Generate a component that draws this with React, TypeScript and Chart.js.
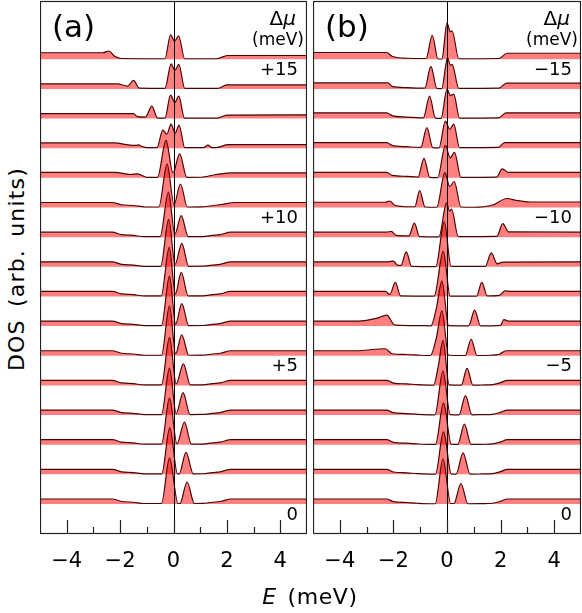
import React, { useEffect, useRef } from "react";
import { Chart, registerables } from "chart.js";

Chart.register(...registerables);

const FONT = "'DejaVu Sans', sans-serif";

// ---------- Data: DOS curves, [E (meV), DOS (arb.)] ----------
// Panel (a): Δμ = 0 .. +15
const a0 = [[-5,1],[-2.3,1],[-1.95,0.5],[-1.5,0.35],[-1.1,0.1],[-0.45,0.1],[-0.15,9.2],[0.17,0.1],[0.24,0.1],[0.51,4.4],[0.78,0.1],[1.1,0.12],[1.45,0.35],[1.75,0.5],[2.15,1],[5,1]];
const a1 = [[-5,1],[-2.3,1],[-1.95,0.5],[-1.5,0.35],[-1.1,0.1],[-0.44,0.1],[-0.14,9.3],[0.15,0.1],[0.21,0.1],[0.47,4.4],[0.74,0.1],[1.1,0.12],[1.45,0.35],[1.75,0.5],[2.15,1],[5,1]];
const a2 = [[-5,1],[-2.3,1],[-1.95,0.5],[-1.5,0.35],[-1.1,0.1],[-0.45,0.1],[-0.15,9.3],[0.13,0.2],[0.41,4.5],[0.67,0.1],[1.1,0.12],[1.45,0.35],[1.75,0.5],[2.15,1],[5,1]];
const a3 = [[-5,1],[-2.3,1],[-1.95,0.5],[-1.5,0.35],[-1.1,0.1],[-0.45,0.1],[-0.15,9.4],[0.1,0.3],[0.36,4.5],[0.62,0.1],[1.1,0.12],[1.45,0.35],[1.75,0.5],[2.15,1],[5,1]];
const a4 = [[-5,1],[-2.3,1],[-1.95,0.5],[-1.5,0.35],[-1.1,0.1],[-0.45,0.1],[-0.15,9.6],[0.1,0.3],[0.37,4.3],[0.63,0.1],[1.1,0.12],[1.45,0.35],[1.75,0.5],[2.15,1],[5,1]];
const a5 = [[-5,1],[-2.3,1],[-1.95,0.5],[-1.5,0.35],[-1.1,0.1],[-0.45,0.1],[-0.15,10],[0.08,0.4],[0.31,4.2],[0.57,0.1],[1.1,0.12],[1.45,0.35],[1.75,0.5],[2.15,1],[5,1]];
const a6 = [[-5,1],[-2.3,1],[-1.95,0.5],[-1.5,0.35],[-1.1,0.1],[-0.45,0.1],[-0.15,10],[0.08,0.4],[0.31,4.5],[0.57,0.1],[1.1,0.12],[1.45,0.35],[1.75,0.5],[2.15,1],[5,1]];
const a7 = [[-5,1],[-2.3,1],[-1.95,0.5],[-1.5,0.35],[-1.1,0.1],[-0.46,0.1],[-0.16,9.8],[0.07,0.5],[0.29,4.8],[0.55,0.1],[1.1,0.12],[1.45,0.35],[1.75,0.5],[2.15,1],[5,1]];
const a8 = [[-5,1],[-2.3,1],[-1.95,0.5],[-1.5,0.35],[-1.1,0.1],[-0.48,0.1],[-0.18,9.5],[0.06,0.5],[0.31,4.7],[0.57,0.1],[1.1,0.12],[1.45,0.35],[1.75,0.5],[2.15,1],[5,1]];
const a9 = [[-5,1],[-2.3,1],[-1.95,0.5],[-1.5,0.35],[-1.1,0.1],[-0.5,0.1],[-0.19,9],[0.05,0.6],[0.29,4.3],[0.55,0.1],[1.1,0.12],[1.45,0.35],[1.75,0.5],[2.15,1],[5,1]];
const a10 = [[-5,1],[-2.3,1],[-1.95,0.55],[-1.5,0.4],[-1.05,0.1],[-0.55,0.1],[-0.24,8.7],[0.02,0.6],[0.26,4.7],[0.52,0.1],[1.0,0.12],[1.5,0.4],[1.8,0.6],[2.3,1],[5,1]];
const a11 = [[-5,1.1],[-2.2,1.1],[-1.6,0.67],[-1.35,0.8],[-1.0,0.1],[-0.6,0.1],[-0.28,7.5],[-0.02,1.0],[0.23,4.8],[0.5,0.1],[1.0,0.12],[1.6,0.67],[2.2,1],[5,1]];
const a12 = [[-5,1.05],[-2.2,1.05],[-1.75,0.7],[-1.4,0.55],[-1.3,0.65],[-1.2,0.4],[-1.0,0.1],[-0.62,0.1],[-0.4,3.6],[-0.25,2.8],[-0.09,4.8],[0.06,3.0],[0.21,4.6],[0.42,0.1],[1.12,0.1],[1.29,0.6],[1.45,0.1],[1.65,0.15],[2.05,0.7],[5,0.7]];
const a13 = [[-5,1],[-1.5,1],[-1.35,0.4],[-1.05,0.3],[-0.81,2.5],[-0.6,0.1],[-0.32,0.1],[-0.11,4.7],[0.05,3.2],[0.2,4.5],[0.41,0.1],[1.65,0.1],[2.0,0.7],[5,0.75]];
const a14 = [[-5,1],[-2.1,1],[-1.72,0.55],[-1.5,1.7],[-1.28,0.15],[-0.32,0.1],[-0.09,5.0],[0.05,3.7],[0.2,4.9],[0.42,0.1],[1.65,0.1],[2.0,0.8],[5,0.8]];
const a15 = [[-5,1.3],[-2.65,1.3],[-2.42,1.65],[-2.2,0.6],[-1.95,0.15],[-0.32,0.1],[-0.11,4.9],[0.04,3.6],[0.19,4.7],[0.42,0.1],[1.62,0.1],[2.02,0.75],[5,0.75]];

// Panel (b): Δμ = 0 .. −15
const b0 = [[-5,1],[-2.25,1],[-2.0,0.47],[-1.5,0.3],[-1.1,0.15],[-0.6,0.05],[-0.44,0.05],[-0.15,9.0],[0.14,0.1],[0.26,0.1],[0.52,4.1],[0.78,0.05],[1.3,0.08],[1.7,0.15],[2.0,0.55],[2.25,1],[5,1]];
const b1 = [[-5,1],[-2.25,1],[-2.0,0.47],[-1.5,0.3],[-1.1,0.15],[-0.6,0.05],[-0.43,0.05],[-0.13,8.5],[0.16,0.1],[0.34,0.05],[0.6,4.3],[0.86,0.05],[1.3,0.08],[1.7,0.15],[2.0,0.55],[2.25,1],[5,1]];
const b2 = [[-5,1],[-2.25,1],[-2.0,0.47],[-1.5,0.3],[-1.1,0.15],[-0.6,0.05],[-0.43,0.05],[-0.13,8.3],[0.16,0.1],[0.4,0.05],[0.65,4.1],[0.9,0.05],[1.3,0.08],[1.7,0.15],[2.0,0.55],[2.25,1],[5,1]];
const b3 = [[-5,1],[-2.25,1],[-2.0,0.47],[-1.5,0.3],[-1.1,0.15],[-0.6,0.05],[-0.45,0.05],[-0.15,8.8],[0.12,0.1],[0.45,0.05],[0.69,3.9],[0.93,0.05],[1.3,0.08],[1.7,0.15],[2.0,0.55],[2.25,1],[5,1]];
const b4 = [[-5,1],[-2.25,1],[-2.0,0.47],[-1.5,0.3],[-1.1,0.15],[-0.6,0.05],[-0.5,0.05],[-0.32,4],[-0.15,9],[0.08,0.1],[0.53,0.05],[0.75,3.4],[0.97,0.05],[1.3,0.08],[1.7,0.15],[2.0,0.55],[2.25,1],[5,1]];
const b5 = [[-5,1],[-3.4,1],[-2.3,1.4],[-2.05,0.4],[-1.5,0.25],[-1.0,0.1],[-0.62,0.05],[-0.4,3.5],[-0.19,9],[0.06,0.1],[0.68,0.05],[0.9,3.3],[1.12,0.05],[1.6,0.1],[1.95,0.3],[2.2,1],[5,1]];
const b6 = [[-5,1],[-3.3,1],[-2.6,1.6],[-2.25,2.2],[-2.0,0.4],[-1.9,0.2],[-1.0,0.1],[-0.6,0.05],[-0.4,3.5],[-0.19,9],[0.06,0.1],[0.81,0.05],[1.03,3.2],[1.25,0.05],[2.0,0.15],[2.12,1.3],[2.3,1.0],[5,1]];
const b7 = [[-5,1],[-2.3,1],[-2.13,0.4],[-1.93,2.8],[-1.73,0.1],[-0.48,0.05],[-0.14,9],[0.12,0.05],[1.1,0.05],[1.3,2.8],[1.5,0.1],[1.95,0.2],[2.17,1.1],[2.4,1.0],[5,1]];
const b8 = [[-5,1],[-2.2,1],[-2.0,1.15],[-1.85,0.35],[-1.72,0.3],[-1.52,3.0],[-1.32,0.1],[-0.42,0.05],[-0.1,9],[0.15,0.1],[1.43,0.1],[1.65,2.8],[1.87,0.6],[2.1,0.95],[5,1]];
const b9 = [[-5,1],[-2.25,1],[-2.08,1.15],[-1.9,0.35],[-1.42,0.25],[-1.22,2.8],[-1.02,0.1],[-0.3,0.05],[-0.02,6.8],[0.1,5.2],[0.17,5.6],[0.42,0.1],[1.86,0.15],[2.08,2.7],[2.3,1.05],[5,1]];
const b10 = [[-5,1.05],[-2.3,1.05],[-2.14,1.3],[-1.95,0.45],[-1.4,0.15],[-1.2,0.15],[-1.02,3.4],[-0.82,0.1],[-0.38,0.05],[-0.08,7],[0.1,4.2],[0.27,5.2],[0.52,0.1],[1.0,0.05],[1.7,0.5],[2.24,1.8],[2.6,1.4],[3.1,1.1],[5,1.1]];
const b11 = [[-5,1.1],[-2.25,1.1],[-2.05,0.5],[-1.5,0.3],[-1.08,0.15],[-0.86,3.9],[-0.64,0.1],[-0.35,0.05],[-0.06,6.5],[0.12,4.0],[0.28,5.1],[0.52,0.1],[1.85,0.15],[2.06,1.8],[2.3,1.1],[5,1.1]];
const b12 = [[-5,1.1],[-2.25,1.1],[-2.05,0.55],[-1.5,0.3],[-0.98,0.15],[-0.75,4.1],[-0.53,0.1],[-0.3,0.05],[-0.06,5.4],[0.1,3.8],[0.25,4.8],[0.47,0.1],[1.9,0.15],[2.15,1.1],[5,1.1]];
const b13 = [[-5,1.15],[-2.25,1.15],[-2.05,0.6],[-1.5,0.3],[-0.88,0.15],[-0.65,4.5],[-0.43,0.1],[-0.22,0.05],[0.0,5.9],[0.13,4.6],[0.25,4.9],[0.47,0.1],[1.93,0.15],[2.2,1.15],[5,1.15]];
const b14 = [[-5,1.2],[-2.2,1.2],[-2.05,0.5],[-1.5,0.25],[-0.83,0.15],[-0.6,4.5],[-0.38,0.1],[-0.2,0.05],[0.02,6.2],[0.13,4.7],[0.19,4.9],[0.44,0.1],[1.94,0.15],[2.22,1.15],[5,1.15]];
const b15 = [[-5,1.35],[-2.25,1.35],[-2.05,0.6],[-1.5,0.2],[-0.78,0.15],[-0.55,4.8],[-0.34,0.1],[-0.19,0.05],[0.0,7.3],[0.12,5.5],[0.19,5.7],[0.44,0.1],[1.94,0.15],[2.24,1.2],[5,1.2]];

const curvesA = [a0, a1, a2, a3, a4, a5, a6, a7, a8, a9, a10, a11, a12, a13, a14, a15];
const curvesB = [b0, b1, b2, b3, b4, b5, b6, b7, b8, b9, b10, b11, b12, b13, b14, b15];

const labelIndices = [0, 5, 10, 15];
const labelsA = ["0", "+5", "+10", "+15"];
const labelsB = ["0", "\u22125", "\u221210", "\u221215"];
const majorTicks = [-4, -2, 0, 2, 4];
const minorTicks = [-3, -1, 1, 3];
const curveOffset = 5.93;
const yMin = -6;
const yMax = 100.6;
const xMin = -5;
const xMax = 5;

const CANVAS_H = 587;
const X_AXIS_H = 53;

const fmt = (v: number) => (v < 0 ? "\u2212" + Math.abs(v) : String(v));

function makeOverlay(tag: string, labels: string[]) {
  return {
    id: "overlay",
    afterDatasetsDraw(chart: any) {
      const { ctx, chartArea, scales } = chart;
      const { left, right, top, bottom } = chartArea;
      const x = scales.x;
      const y = scales.y;
      ctx.save();
      ctx.strokeStyle = "#000";
      ctx.lineWidth = 1;
      const x0 = Math.round(x.getPixelForValue(0)) + 0.5;
      ctx.beginPath();
      ctx.moveTo(x0, top);
      ctx.lineTo(x0, bottom);
      ctx.stroke();
      ctx.strokeStyle = "#222";
      ctx.lineWidth = 1.2;
      for (const v of majorTicks) {
        const px = Math.round(x.getPixelForValue(v)) + 0.5;
        ctx.beginPath();
        ctx.moveTo(px, bottom);
        ctx.lineTo(px, bottom - 14);
        ctx.stroke();
      }
      for (const v of minorTicks) {
        const px = Math.round(x.getPixelForValue(v)) + 0.5;
        ctx.beginPath();
        ctx.moveTo(px, bottom);
        ctx.lineTo(px, bottom - 7);
        ctx.stroke();
      }
      ctx.strokeRect(left + 0.5, top + 0.5, right - left - 1, bottom - top - 1);

      ctx.fillStyle = "#000";
      ctx.textBaseline = "middle";
      ctx.textAlign = "left";
      ctx.font = `31px ${FONT}`;
      ctx.fillText(tag, left + 12, top + 28);
      ctx.textAlign = "right";
      ctx.font = `italic 20px ${FONT}`;
      const muW = ctx.measureText("\u03bc").width;
      const rx = right - 11;
      ctx.fillText("\u03bc", rx, top + 19);
      ctx.font = `20px ${FONT}`;
      ctx.fillText("\u0394", rx - muW, top + 19);
      ctx.font = `17px ${FONT}`;
      ctx.fillText("(meV)", right - 3, top + 40);
      ctx.font = `18px ${FONT}`;
      labelIndices.forEach((k, i) => {
        const py = y.getPixelForValue(k * curveOffset) + 11;
        ctx.fillText(labels[i], right - 9, py);
      });
      ctx.restore();
    },
  };
}

function Panel(props: { curves: number[][][]; tag: string; labels: string[]; left: number; width: number }) {
  const ref = useRef<HTMLCanvasElement>(null);
  useEffect(() => {
    if (!ref.current) return;
    const datasets = props.curves.map((c, i) => ({
      data: c.map(([e, d]) => ({ x: e, y: i * curveOffset + d })),
      fill: { value: i * curveOffset },
      backgroundColor: "rgba(255, 0, 0, 0.5)",
      borderColor: "#4a0505",
      borderWidth: 1.2,
      pointRadius: 0,
      cubicInterpolationMode: "monotone" as const,
    }));
    const chart = new Chart(ref.current, {
      type: "line",
      data: { datasets },
      options: {
        responsive: false,
        animation: false,
        layout: { padding: { top: 1, left: 0, right: 0, bottom: 0 } },
        plugins: { legend: { display: false }, tooltip: { enabled: false } },
        scales: {
          x: {
            type: "linear",
            min: xMin,
            max: xMax,
            afterBuildTicks: (axis: any) => {
              axis.ticks = majorTicks.map((v) => ({ value: v }));
            },
            afterFit: (axis: any) => {
              axis.height = X_AXIS_H;
              axis.paddingLeft = 0;
              axis.paddingRight = 0;
            },
            grid: { display: false, drawTicks: false },
            border: { display: false },
            ticks: {
              autoSkip: false,
              maxRotation: 0,
              padding: 15,
              color: "#000",
              font: { family: FONT, size: 21 },
              callback: (v: any) => fmt(Number(v)),
            },
          },
          y: { type: "linear", min: yMin, max: yMax, display: false },
        },
      },
      plugins: [makeOverlay(props.tag, props.labels)],
    });
    return () => chart.destroy();
  }, []);
  return (
    <canvas
      ref={ref}
      width={props.width}
      height={CANVAS_H}
      style={{ position: "absolute", left: props.left, top: 0, width: props.width, height: CANVAS_H }}
    />
  );
}

export default function App() {
  return (
    <div style={{ position: "absolute", left: 0, top: 0, width: 582, height: 613, background: "#fff", fontFamily: FONT, overflow: "hidden" }}>
      <Panel curves={curvesA} tag="(a)" labels={labelsA} left={40} width={267} />
      <Panel curves={curvesB} tag="(b)" labels={labelsB} left={313} width={268} />
      <div
        style={{
          position: "absolute",
          left: 17 - 150,
          top: 269 - 13,
          width: 300,
          height: 26,
          lineHeight: "26px",
          textAlign: "center",
          fontSize: 22,
          letterSpacing: 1.2,
          wordSpacing: 4,
          transform: "rotate(-90deg)",
          color: "#000",
        }}
      >
        DOS (arb. units)
      </div>
      <div
        style={{
          position: "absolute",
          left: 310 - 100,
          top: 597 - 13,
          width: 200,
          height: 26,
          lineHeight: "26px",
          textAlign: "center",
          fontSize: 22,
          letterSpacing: 0.6,
          wordSpacing: 3,
          color: "#000",
        }}
      >
        <span style={{ fontStyle: "italic" }}>E</span> (meV)
      </div>
    </div>
  );
}
